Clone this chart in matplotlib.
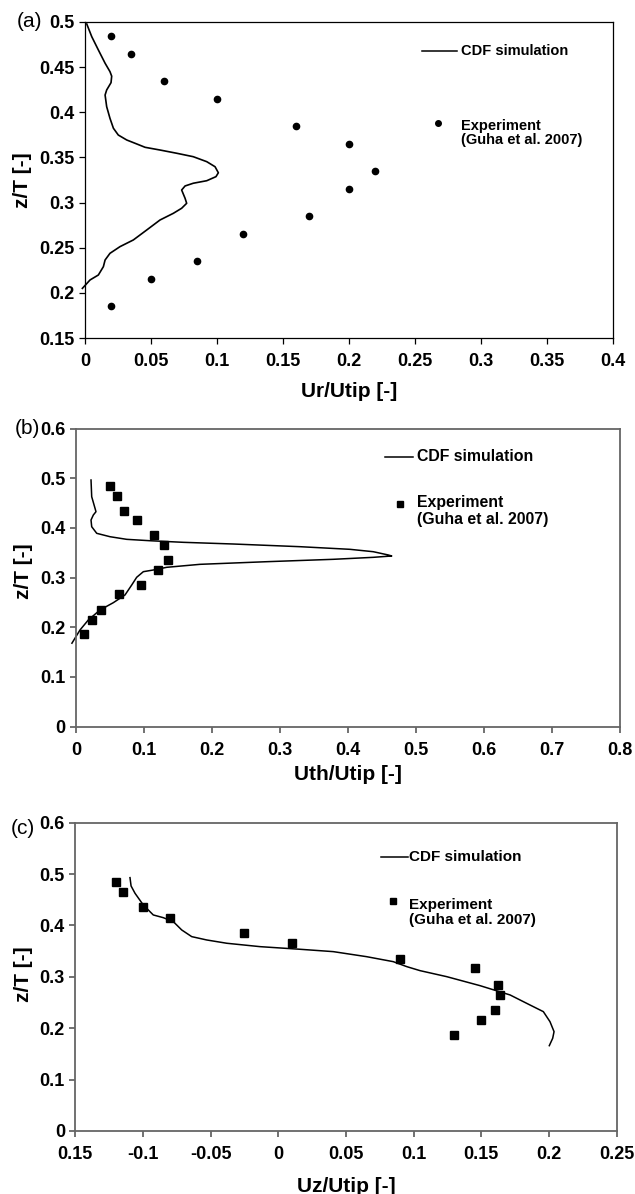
import matplotlib

matplotlib.use("Agg")
import matplotlib.pyplot as plt
from matplotlib.ticker import FuncFormatter

plt.rcParams["font.family"] = ["Liberation Sans", "DejaVu Sans"]
plt.rcParams["font.weight"] = "bold"
plt.rcParams["axes.labelweight"] = "bold"

# ---- (a) radial velocity Ur/Utip ----
a_exp_u = [0.02, 0.035, 0.06, 0.10, 0.16, 0.20, 0.22, 0.20, 0.17, 0.12, 0.085, 0.05, 0.02]
a_exp_z = [0.485, 0.465, 0.435, 0.415, 0.385, 0.365, 0.335, 0.315, 0.285, 0.265, 0.235, 0.215, 0.185]
a_cfd_u = [0.0013, 0.0051, 0.0101, 0.0152, 0.0189, 0.0202, 0.0197, 0.0164, 0.0152, 0.0164,
           0.0189, 0.0215, 0.0252, 0.0316, 0.0392, 0.0455, 0.0568, 0.0695, 0.082, 0.0922,
           0.0985, 0.101, 0.0992, 0.0922, 0.082, 0.0758, 0.0732, 0.0758, 0.077, 0.0732,
           0.0669, 0.0568, 0.0467, 0.0366, 0.0265, 0.0189, 0.0152, 0.0139, 0.0101, 0.0038,
           -0.002]
a_cfd_z = [0.4978, 0.4837, 0.469, 0.4543, 0.445, 0.440, 0.4328, 0.4247, 0.4191, 0.4062,
           0.3933, 0.3823, 0.3748, 0.3693, 0.3649, 0.3612, 0.3582, 0.3546, 0.3508, 0.3453,
           0.3397, 0.333, 0.3287, 0.3242, 0.3214, 0.3184, 0.3139, 0.3047, 0.2992, 0.2937,
           0.2881, 0.2807, 0.2696, 0.2586, 0.2512, 0.2438, 0.2364, 0.229, 0.2198, 0.2143,
           0.205]

# ---- (b) tangential velocity Uth/Utip ----
b_exp_u = [0.05, 0.06, 0.07, 0.09, 0.115, 0.13, 0.135, 0.12, 0.095, 0.063, 0.037, 0.024, 0.012]
b_exp_z = [0.485, 0.465, 0.435, 0.415, 0.385, 0.365, 0.335, 0.315, 0.285, 0.267, 0.235, 0.215, 0.187]
b_cfd_u = [0.0221, 0.0231, 0.028, 0.0294, 0.0255, 0.0221, 0.0231, 0.0305, 0.05, 0.0746,
           0.1089, 0.1579, 0.2315, 0.3297, 0.4033, 0.4376, 0.4597, 0.4647, 0.4376, 0.3787,
           0.2807, 0.1825, 0.1335, 0.1138, 0.0991, 0.0893, 0.082, 0.0721, 0.0549, 0.0353,
           0.0181, 0.0059, -0.006]
b_cfd_z = [0.4964, 0.4628, 0.4394, 0.4326, 0.426, 0.4159, 0.4024, 0.3891, 0.3823, 0.377,
           0.3742, 0.371, 0.3676, 0.3622, 0.3569, 0.3521, 0.3455, 0.3435, 0.3408, 0.3368,
           0.332, 0.3267, 0.3207, 0.3153, 0.3119, 0.3006, 0.2851, 0.265, 0.2495, 0.2348,
           0.2147, 0.1946, 0.168]

# ---- (c) axial velocity Uz/Utip ----
c_exp_u = [-0.12, -0.115, -0.10, -0.08, -0.025, 0.01, 0.09, 0.145, 0.162, 0.164, 0.16, 0.15, 0.13]
c_exp_z = [0.485, 0.465, 0.435, 0.415, 0.385, 0.365, 0.335, 0.317, 0.285, 0.265, 0.235, 0.215, 0.187]
c_cfd_u = [-0.1096, -0.1088, -0.1059, -0.0998, -0.0924, -0.085, -0.0776, -0.0714, -0.064,
           -0.0529, -0.0381, -0.0135, 0.016, 0.0406, 0.0652, 0.0849, 0.0949, 0.1047, 0.1244,
           0.149, 0.1712, 0.1859, 0.1958, 0.2007, 0.2037, 0.2027, 0.2002]
c_cfd_z = [0.493, 0.4768, 0.4626, 0.4399, 0.4204, 0.4151, 0.4074, 0.3912, 0.3782,
           0.3717, 0.3653, 0.3587, 0.3536, 0.349, 0.3392, 0.3295, 0.3198, 0.312, 0.3003,
           0.2828, 0.2647, 0.2452, 0.2322, 0.2127, 0.1933, 0.1804, 0.166]

a_xticks = [0, 0.05, 0.1, 0.15, 0.2, 0.25, 0.3, 0.35, 0.4]
a_yticks = [0.15, 0.2, 0.25, 0.3, 0.35, 0.4, 0.45, 0.5]
b_xticks = [0, 0.1, 0.2, 0.3, 0.4, 0.5, 0.6, 0.7, 0.8]
bc_yticks = [0, 0.1, 0.2, 0.3, 0.4, 0.5, 0.6]
c_xticks = [-0.15, -0.1, -0.05, 0, 0.05, 0.1, 0.15, 0.2, 0.25]
c_xticklabels = ["0.15", "-0.1", "-0.05", "0", "0.05", "0.1", "0.15", "0.2", "0.25"]

LEG_CFD = "CDF simulation"
LEG_EXP = "Experiment"
LEG_REF = "(Guha et al. 2007)"

fmt_g = FuncFormatter(lambda v, _: f"{v:g}")


def style_axes(ax, color, lw):
    for side in ("top", "right", "bottom", "left"):
        ax.spines[side].set_color(color)
        ax.spines[side].set_linewidth(lw)
    ax.tick_params(direction="out", length=4.5, width=lw, color=color,
                   labelsize=13, top=False, right=False)
    ax.tick_params(axis="x", pad=6.5)
    ax.tick_params(axis="y", pad=3)
    ax.yaxis.set_major_formatter(fmt_g)


def draw_legend(ax, line_x, line_y, text_x, mark_x, mark_y, exp_y, ref_y,
                marker, msize, fsize):
    ax.plot(line_x, [line_y, line_y], color="black", lw=1.1,
            transform=ax.transAxes, clip_on=False)
    ax.text(text_x, line_y, LEG_CFD, transform=ax.transAxes, fontsize=fsize,
            va="center", ha="left")
    ax.plot([mark_x], [mark_y], marker=marker, ms=msize, color="black",
            ls="none", transform=ax.transAxes, clip_on=False)
    ax.text(text_x, exp_y, LEG_EXP, transform=ax.transAxes, fontsize=fsize,
            va="center", ha="left")
    ax.text(text_x, ref_y, LEG_REF, transform=ax.transAxes, fontsize=fsize,
            va="center", ha="left")


fig = plt.figure(figsize=(6.35, 11.94), dpi=100)

# (a)
ax = fig.add_axes([0.1339, 0.7169, 0.8315, 0.2647])
ax.plot(a_cfd_u, a_cfd_z, color="black", lw=1.2, clip_on=False)
ax.plot(a_exp_u, a_exp_z, "o", color="black", ms=4.5)
ax.set_xlim(0, 0.4)
ax.set_ylim(0.15, 0.5)
ax.set_xticks(a_xticks)
ax.set_yticks(a_yticks)
ax.xaxis.set_major_formatter(fmt_g)
style_axes(ax, "black", 0.9)
ax.set_xlabel("Ur/Utip [-]", fontsize=15)
ax.set_ylabel("z/T [-]", fontsize=15)
ax.xaxis.set_label_coords(0.5, -0.139)
ax.yaxis.set_label_coords(-0.101, 0.5)
draw_legend(ax, [0.6377, 0.704], 0.909, 0.7115, 0.668, 0.6794, 0.6709, 0.6266, "o", 4, 10.5)

# (b)
ax = fig.add_axes([0.1197, 0.3914, 0.8559, 0.2497])
ax.plot(b_cfd_u, b_cfd_z, color="black", lw=1.1, clip_on=False)
ax.plot(b_exp_u, b_exp_z, "s", color="black", ms=6)
ax.set_xlim(0, 0.8)
ax.set_ylim(0, 0.6)
ax.set_xticks(b_xticks)
ax.set_yticks(bc_yticks)
ax.xaxis.set_major_formatter(fmt_g)
style_axes(ax, "#666666", 1.3)
ax.set_xlabel("Uth/Utip [-]", fontsize=15)
ax.set_ylabel("z/T [-]", fontsize=15)
ax.xaxis.set_label_coords(0.5, -0.128)
ax.yaxis.set_label_coords(-0.0786, 0.52)
draw_legend(ax, [0.5685, 0.6206], 0.9054, 0.6266, 0.5961, 0.7458, 0.7518, 0.6932, "s", 5, 11.4)

# (c)
ax = fig.add_axes([0.1186, 0.0528, 0.8526, 0.2582])
ax.plot(c_cfd_u, c_cfd_z, color="black", lw=1.1)
ax.plot(c_exp_u, c_exp_z, "s", color="black", ms=6)
ax.set_xlim(-0.15, 0.25)
ax.set_ylim(0, 0.6)
ax.set_xticks(c_xticks, labels=c_xticklabels)
ax.set_yticks(bc_yticks)
style_axes(ax, "#666666", 1.3)
ax.set_xlabel("Uz/Utip [-]", fontsize=15)
ax.set_ylabel("z/T [-]", fontsize=15)
ax.xaxis.set_label_coords(0.5, -0.149)
ax.yaxis.set_label_coords(-0.0776, 0.509)
draw_legend(ax, [0.5646, 0.615], 0.8897, 0.6169, 0.5874, 0.746, 0.733, 0.6836, "s", 5, 11)

# panel letters
fig.text(0.0472, 0.9818, "(a)", fontsize=15, fontweight="normal", ha="center", va="center")
fig.text(0.0433, 0.6415, "(b)", fontsize=15, fontweight="normal", ha="center", va="center")
fig.text(0.0362, 0.3065, "(c)", fontsize=15, fontweight="normal", ha="center", va="center")

fig.savefig("out.png", dpi=100)
plt.close(fig)
